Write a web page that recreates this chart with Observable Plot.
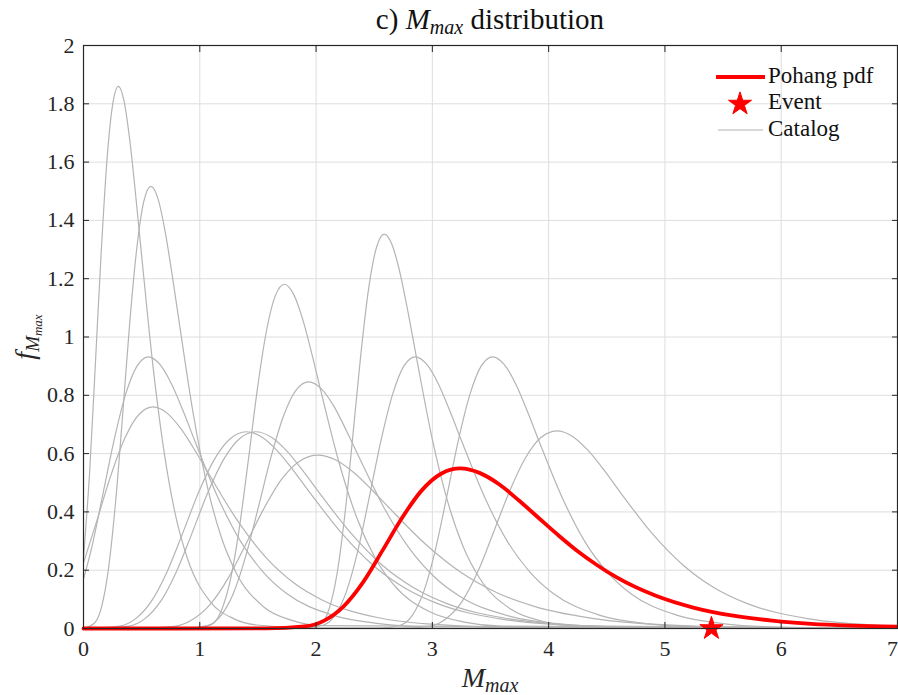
<!DOCTYPE html>
<html>
<head>
<meta charset="utf-8">
<script src="https://cdn.jsdelivr.net/npm/d3@7"></script>
<script src="https://cdn.jsdelivr.net/npm/@observablehq/plot@0.6"></script>
<style>
  html, body { margin: 0; padding: 0; background: #fff; }
  #chart svg { display: block; }
</style>
</head>
<body>
<div id="chart"></div>
<script>
// ---- values ----
const xTicks = [0, 1, 2, 3, 4, 5, 6, 7];
const yTicks = [0, 0.2, 0.4, 0.6, 0.8, 1, 1.2, 1.4, 1.6, 1.8, 2];

// catalog pdf curves, [Mmax, f] pairs
const catalogA = [[0,0.243],[0.053,0.538],[0.102,0.907],[0.152,1.289],[0.201,1.603],[0.251,1.798],[0.30,1.86],[0.35,1.807],[0.399,1.672],[0.448,1.489],[0.498,1.287],[0.597,0.902],[0.696,0.598],[0.795,0.382],[0.894,0.240],[1.092,0.091],[1.29,0.034],[1.488,0.012],[2.0,0.001],[7,0]];
const catalogB = [[0,0.001],[0.095,0.019],[0.156,0.075],[0.216,0.209],[0.277,0.439],[0.338,0.740],[0.398,1.051],[0.459,1.307],[0.519,1.466],[0.58,1.517],[0.641,1.474],[0.701,1.364],[0.762,1.214],[0.823,1.050],[0.944,0.736],[1.065,0.487],[1.186,0.312],[1.308,0.195],[1.55,0.074],[1.793,0.028],[2.035,0.010],[7,0]];
const catalogC = [[0,0.170],[0.066,0.270],[0.164,0.455],[0.263,0.646],[0.362,0.803],[0.461,0.901],[0.56,0.932],[0.659,0.905],[0.758,0.838],[0.857,0.746],[0.956,0.645],[1.153,0.452],[1.351,0.299],[1.549,0.192],[1.747,0.120],[2.142,0.046],[2.538,0.017],[2.934,0.006],[7,0]];
const catalogD = [[0,0.225],[0.116,0.371],[0.237,0.527],[0.358,0.655],[0.479,0.735],[0.60,0.76],[0.721,0.738],[0.842,0.683],[0.963,0.608],[1.084,0.526],[1.326,0.369],[1.568,0.244],[1.81,0.156],[2.052,0.098],[2.536,0.037],[3.02,0.014],[3.504,0.005],[7,0]];
const catalogE = [[0,0],[0.038,0.0001],[0.31,0.008],[0.446,0.033],[0.583,0.093],[0.719,0.195],[0.855,0.329],[0.991,0.468],[1.128,0.582],[1.264,0.652],[1.40,0.675],[1.536,0.656],[1.673,0.607],[1.809,0.540],[1.945,0.467],[2.218,0.328],[2.49,0.217],[2.763,0.139],[3.035,0.087],[3.58,0.033],[4.125,0.012],[4.67,0.005],[7,0]];
const catalogF = [[0,0],[0.118,0.0001],[0.39,0.008],[0.526,0.033],[0.663,0.093],[0.799,0.195],[0.935,0.329],[1.071,0.468],[1.208,0.582],[1.344,0.652],[1.48,0.675],[1.616,0.656],[1.753,0.607],[1.889,0.540],[2.025,0.467],[2.298,0.328],[2.57,0.217],[2.843,0.139],[3.115,0.087],[3.66,0.033],[4.205,0.012],[4.75,0.005],[7,0]];
const catalogG = [[0,0],[0.949,0.0002],[1.105,0.015],[1.183,0.059],[1.261,0.163],[1.339,0.342],[1.417,0.576],[1.494,0.818],[1.572,1.018],[1.650,1.142],[1.728,1.181],[1.806,1.147],[1.884,1.062],[1.962,0.945],[2.040,0.817],[2.195,0.573],[2.351,0.379],[2.507,0.243],[2.663,0.152],[2.974,0.058],[3.286,0.021],[3.597,0.008],[7,0]];
const catalogH = [[0,0],[0.85,0.0002],[1.067,0.010],[1.176,0.042],[1.285,0.117],[1.393,0.245],[1.502,0.413],[1.611,0.586],[1.72,0.729],[1.828,0.818],[1.937,0.846],[2.046,0.822],[2.155,0.761],[2.263,0.677],[2.372,0.586],[2.59,0.410],[2.807,0.272],[3.025,0.174],[3.242,0.109],[3.677,0.041],[4.112,0.015],[4.547,0.006],[7,0]];
const catalogI = [[0,0],[0.47,0.0001],[0.779,0.007],[0.934,0.030],[1.088,0.082],[1.243,0.172],[1.397,0.290],[1.552,0.412],[1.706,0.513],[1.861,0.575],[2.015,0.595],[2.17,0.578],[2.324,0.535],[2.479,0.476],[2.633,0.412],[2.942,0.289],[3.251,0.191],[3.56,0.122],[3.869,0.077],[4.487,0.029],[5.105,0.011],[5.723,0.004],[7,0]];
const catalogJ = [[0,0],[1.908,0.0003],[2.044,0.017],[2.112,0.067],[2.18,0.187],[2.248,0.392],[2.316,0.660],[2.384,0.937],[2.452,1.166],[2.52,1.308],[2.588,1.353],[2.656,1.314],[2.724,1.216],[2.792,1.083],[2.86,0.937],[2.996,0.656],[3.132,0.435],[3.268,0.278],[3.404,0.174],[3.676,0.066],[3.948,0.025],[4.22,0.009],[7,0]];
const catalogK = [[0,0],[1.868,0.0002],[2.065,0.012],[2.164,0.046],[2.263,0.129],[2.361,0.270],[2.46,0.455],[2.559,0.646],[2.658,0.803],[2.756,0.901],[2.855,0.932],[2.954,0.905],[3.053,0.838],[3.151,0.746],[3.25,0.645],[3.448,0.452],[3.645,0.299],[3.843,0.192],[4.04,0.120],[4.435,0.046],[4.83,0.017],[5.225,0.006],[7,0]];
const catalogL = [[0,0],[2.533,0.0002],[2.73,0.012],[2.829,0.046],[2.928,0.129],[3.026,0.270],[3.125,0.455],[3.224,0.646],[3.323,0.803],[3.421,0.901],[3.52,0.932],[3.619,0.905],[3.718,0.838],[3.816,0.746],[3.915,0.645],[4.113,0.452],[4.31,0.299],[4.508,0.192],[4.705,0.120],[5.1,0.046],[5.495,0.017],[5.89,0.006],[7,0]];
const catalogM = [[0,0],[2.714,0.0001],[2.985,0.008],[3.12,0.034],[3.256,0.093],[3.392,0.196],[3.527,0.331],[3.663,0.470],[3.799,0.584],[3.934,0.655],[4.07,0.678],[4.206,0.659],[4.341,0.610],[4.477,0.543],[4.613,0.469],[4.884,0.329],[5.155,0.218],[5.427,0.139],[5.698,0.087],[6.24,0.033],[6.783,0.012],[7,0.008]];

// Pohang pdf (red)
const pohangPdf = [[0,0],[1.567,0.0001],[1.902,0.007],[2.07,0.027],[2.237,0.076],[2.405,0.159],[2.572,0.268],[2.740,0.380],[2.907,0.473],[3.075,0.531],[3.242,0.549],[3.410,0.533],[3.577,0.494],[3.745,0.439],[3.912,0.380],[4.080,0.321],[4.247,0.266],[4.415,0.218],[4.582,0.176],[4.917,0.113],[5.252,0.071],[5.587,0.044],[5.922,0.027],[6.257,0.016],[6.592,0.010],[7,0.006]];

// observed event
const eventMmax = [5.4];
const eventF = [0];

const catalogCurves = [catalogA, catalogB, catalogC, catalogD, catalogE, catalogF, catalogG, catalogH, catalogI, catalogJ, catalogK, catalogL, catalogM];

// ---- chart ----
const W = 898, H = 695;
const gray = "#b4b4b4", red = "#ff0000", ink = "#262626";
const font = "'Liberation Serif', 'DejaVu Serif', serif";

const svg = Plot.plot({
  width: W,
  height: H,
  marginLeft: 83,
  marginRight: 1,
  marginTop: 45,
  marginBottom: 67,
  style: { fontFamily: font, fontSize: "22px", color: ink, background: "#fff" },
  x: { domain: [0, 7], label: null },
  y: { domain: [0, 2], label: null },
  marks: [
    Plot.gridX(xTicks, { stroke: "#dedede", strokeOpacity: 1, strokeWidth: 1 }),
    Plot.gridY(yTicks, { stroke: "#dedede", strokeOpacity: 1, strokeWidth: 1 }),
    ...catalogCurves.map(c => Plot.line(c, { x: d => d[0], y: d => d[1], stroke: gray, strokeWidth: 1.2, curve: "monotone-x" })),
    Plot.line(pohangPdf, { x: d => d[0], y: d => d[1], stroke: red, strokeWidth: 3.8, curve: "monotone-x" }),
    Plot.dot(eventMmax.map((m, i) => ({ m, f: eventF[i] })), { x: "m", y: "f", symbol: "star", r: 7.3, fill: red, stroke: red, strokeWidth: 1 }),
    Plot.frame({ stroke: ink, strokeWidth: 1.2 }),
    Plot.axisX(xTicks, { anchor: "bottom", tickSize: -6, tickPadding: 18, tickFormat: d => String(d), fill: ink, stroke: ink, label: null }),
    Plot.axisX(xTicks, { anchor: "top", tickSize: -6, tickFormat: null, fill: "none", stroke: ink, label: null }),
    Plot.axisY(yTicks, { anchor: "left", tickSize: -6, tickPadding: 15, tickFormat: d => String(d), fill: ink, stroke: ink, label: null }),
    Plot.axisY(yTicks, { anchor: "right", tickSize: -6, tickFormat: null, fill: "none", stroke: ink, label: null })
  ]
});

document.getElementById("chart").appendChild(svg);

const s = d3.select(svg);

// keep the last x tick label ("7") inside the picture
s.selectAll("g[aria-label='x-axis tick label'] text")
  .filter(function () { return this.textContent === "7"; })
  .attr("dx", -5);

// ---- title, axis labels, legend (real text) ----
const title = s.append("text")
  .attr("x", 490).attr("y", 29)
  .attr("text-anchor", "middle")
  .attr("fill", "#111").style("font-family", font).style("font-size", "29px");
title.append("tspan").text("c) ");
title.append("tspan").attr("font-style", "italic").text("M");
title.append("tspan").attr("font-style", "italic").attr("font-size", "20px").attr("dy", 5).text("max");
title.append("tspan").attr("dy", -5).text(" distribution");

const xl = s.append("text")
  .attr("x", 490).attr("y", 687)
  .attr("text-anchor", "middle")
  .attr("fill", ink).style("font-family", font).style("font-size", "28px");
xl.append("tspan").attr("font-style", "italic").text("M");
xl.append("tspan").attr("font-style", "italic").attr("font-size", "20px").attr("dy", 5).text("max");

const yl = s.append("text")
  .attr("transform", "translate(34,337) rotate(-90)")
  .attr("text-anchor", "middle")
  .attr("fill", ink).style("font-family", font).style("font-size", "28px");
yl.append("tspan").attr("font-style", "italic").text("f");
yl.append("tspan").attr("font-style", "italic").attr("font-size", "19px").attr("dy", 5).text("M");
yl.append("tspan").attr("font-style", "italic").attr("font-size", "13px").attr("dy", 3).text("max");

const lg = s.append("g").style("font-family", font).style("font-size", "23px")
  .attr("fill", "#111").attr("text-anchor", "start");
lg.append("line").attr("x1", 716).attr("x2", 765).attr("y1", 77).attr("y2", 77).attr("stroke", red).attr("stroke-width", 4);
lg.append("text").attr("text-anchor", "start").attr("x", 768).attr("y", 83).text("Pohang pdf");
lg.append("path").attr("transform", "translate(740,104)")
  .attr("d", d3.symbol(d3.symbolStar, 165)()).attr("fill", red).attr("stroke", red);
lg.append("text").attr("text-anchor", "start").attr("x", 768).attr("y", 109).text("Event");
lg.append("line").attr("x1", 718).attr("x2", 763).attr("y1", 130).attr("y2", 130).attr("stroke", gray).attr("stroke-width", 1.2);
lg.append("text").attr("text-anchor", "start").attr("x", 768).attr("y", 136).text("Catalog");
</script>
</body>
</html>
